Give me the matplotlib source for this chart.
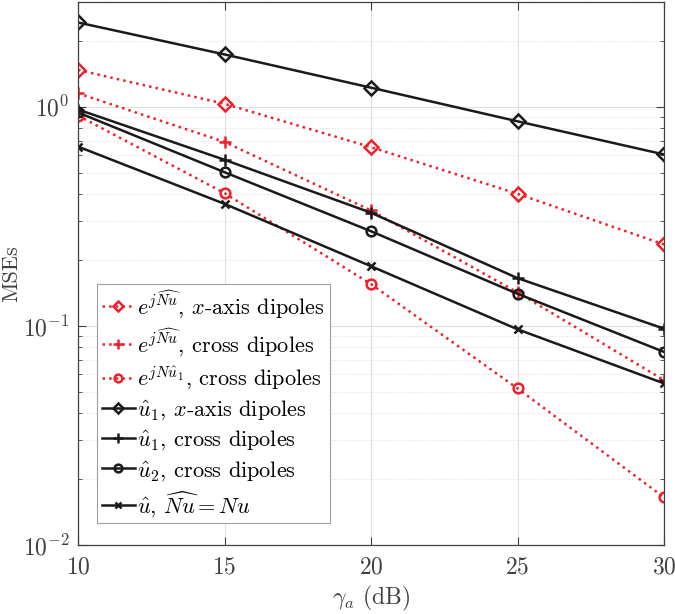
import matplotlib
matplotlib.use("Agg")
import matplotlib.pyplot as plt
from matplotlib.ticker import LogLocator, FixedLocator

plt.rcParams['font.family'] = ['cmr10', 'DejaVu Serif']
plt.rcParams['mathtext.fontset'] = 'cm'
plt.rcParams['axes.formatter.use_mathtext'] = True

snr = [10, 15, 20, 25, 30]

red_diamond = [1.47, 1.03, 0.653, 0.40, 0.235]
red_plus = [1.15, 0.69, 0.336, 0.142, 0.0565]
red_circle = [0.91, 0.403, 0.155, 0.0518, 0.0165]
blk_diamond = [2.42, 1.73, 1.22, 0.857, 0.605]
blk_plus = [0.97, 0.572, 0.328, 0.165, 0.097]
blk_circle = [0.94, 0.502, 0.27, 0.140, 0.076]
blk_x = [0.657, 0.36, 0.187, 0.0964, 0.0546]

labels = [
    r'$e^{j\widehat{Nu}}$, $x$-axis dipoles',
    r'$e^{j\widehat{Nu}}$, cross dipoles',
    r'$e^{jN\hat{u}_1}$, cross dipoles',
    r'$\hat{u}_1$, $x$-axis dipoles',
    r'$\hat{u}_1$, cross dipoles',
    r'$\hat{u}_2$, cross dipoles',
    r'$\hat{u}$, $\widehat{Nu}=Nu$',
]

RED = '#f0202a'
BLK = '#1a1a1a'
GRAYTXT = '#404040'

fig = plt.figure(figsize=(6.75, 6.14), dpi=100)
ax = fig.add_axes([0.1156, 0.1124, 0.8681, 0.8843])

rkw = dict(color=RED, linestyle=':', linewidth=1.8, markerfacecolor='none', markeredgewidth=1.8)
bkw = dict(color=BLK, linestyle='-', linewidth=1.8, markerfacecolor='none', markeredgewidth=1.8)

ax.plot(snr, red_diamond, marker='D', markersize=7, label=labels[0], **rkw)
ax.plot(snr, red_plus, marker='+', markersize=9, label=labels[1], **rkw)
ax.plot(snr, red_circle, marker='o', markersize=7, label=labels[2], **rkw)
ax.plot(snr, blk_diamond, marker='D', markersize=7, label=labels[3], **bkw)
ax.plot(snr, blk_plus, marker='+', markersize=9, label=labels[4], **bkw)
ax.plot(snr, blk_circle, marker='o', markersize=7, label=labels[5], **bkw)
ax.plot(snr, blk_x, marker='x', markersize=6, label=labels[6], **bkw)

ax.set_yscale('log')
ax.set_xlim(10, 30)
ax.set_ylim(0.01, 3)
ax.xaxis.set_major_locator(FixedLocator([10, 15, 20, 25, 30]))
ax.yaxis.set_major_locator(LogLocator(base=10, numticks=10))
ax.yaxis.set_minor_locator(LogLocator(base=10, subs=range(2, 10), numticks=20))

ax.grid(True, which='major', color='#e0e0e0', linestyle='-', linewidth=0.8)
ax.grid(True, which='minor', axis='y', color='#e0e0e0', linestyle=':', linewidth=0.8)
ax.set_axisbelow(True)

ax.tick_params(which='both', direction='in', top=True, right=True, colors=GRAYTXT,
               labelcolor=GRAYTXT, labelsize=17)
ax.tick_params(which='major', length=6)
ax.tick_params(which='minor', length=3)
ax.tick_params(axis='x', which='both', pad=8)
ax.tick_params(axis='y', which='both', pad=6)
ax.tick_params(axis='x', which='minor', bottom=False, top=False)
for s in ax.spines.values():
    s.set_color(GRAYTXT)
    s.set_linewidth(0.9)

ax.set_xlabel(r'$\gamma_a$ (dB)', fontsize=17, color=GRAYTXT, labelpad=4)
ax.set_ylabel('MSEs', fontsize=16, color=GRAYTXT)
ax.yaxis.set_label_coords(-0.097, 0.5)

leg = ax.legend(loc='lower left', bbox_to_anchor=(0.033, 0.04), fontsize=16,
                frameon=True, fancybox=False, edgecolor='#a0a0a0', framealpha=1,
                handlelength=1.5, handletextpad=0.1, borderpad=0.2, labelspacing=0.28,
                borderaxespad=0, markerscale=0.8)
leg.get_frame().set_linewidth(0.8)

fig.savefig('out.png', dpi=100)
